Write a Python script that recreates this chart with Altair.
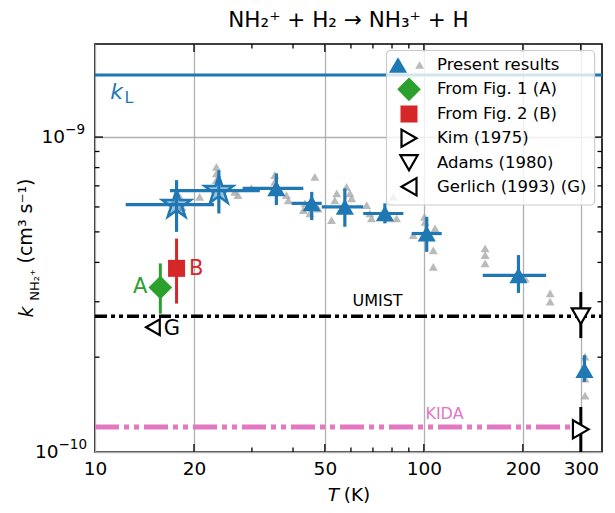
import altair as alt
import pandas as pd

FONT = "DejaVu Sans"
BLUE = "#1f77b4"
GREEN = "#2ca02c"
RED = "#d62728"
PINK = "#e377c2"
GRAYPT = "#a9a9a9"
W, H = 507, 408

# ---------------- data (k in units of 1e-10 cm^3 s^-1) ----------------
present_T   = [17.7, 23.8, 35.6, 45.6, 57.5, 76.1, 102.0, 193.9, 307.8]
present_Tlo = [12.4, 16.9, 28.1, 39.6, 48.9, 65.4, 91.8, 151.0, None]
present_Thi = [23.0, 31.7, 43.0, 48.9, 65.4, 86.6, 113.3, 235.3, None]
present_k   = [6.10, 6.76, 6.87, 6.16, 6.00, 5.72, 4.94, 3.64, 1.82]
present_klo = [5.00, 5.72, 6.08, 5.45, 5.19, 5.32, 4.32, 3.20, 1.67]
present_khi = [7.30, 7.85, 7.67, 6.70, 6.87, 6.16, 5.58, 4.22, 2.03]
present_mk  = ["star", "star", "tri", "tri", "tri", "tri", "tri", "tri", "tri"]

gray_T = [17.5, 18.1, 18.4, 20.8, 23.4, 23.4, 23.4, 26.6, 27.2, 29.9, 35.2, 35.2,
          38.2, 38.7, 46.6, 43.5, 43.0, 45.0, 47.7, 52.4, 54.3, 53.6, 58.2, 59.6,
          60.3, 67.0, 68.5, 69.3, 80.7, 78.8, 82.6, 100.8, 100.4, 92.8, 108.1,
          106.8, 106.8, 153.5, 153.5, 153.5, 203.2, 242.1, 242.1, 309.0, 309.0, 309.0]
gray_k = [6.30, 6.46, 5.99, 6.46, 8.04, 7.67, 7.30, 6.70, 6.54, 6.88, 7.57, 7.21,
          6.54, 6.30, 7.48, 6.16, 5.86, 5.72, 5.93, 5.45, 6.62, 6.30, 6.95, 6.62,
          6.39, 6.08, 5.72, 5.52, 6.46, 5.52, 5.52, 5.38, 5.58, 4.88, 5.13,
          4.37, 3.87, 4.43, 4.22, 3.97, 3.56, 3.19, 3.00, 2.01, 1.71, 1.51]

figA_T, figA_k, figA_klo, figA_khi = [15.8], [3.33], [2.75], [3.97]
figB_T, figB_k, figB_klo, figB_khi = [17.7], [3.83], [2.96], [4.76]
gerlich_T, gerlich_k = [15.0], [2.49]
kim_T, kim_k, kim_klo, kim_khi = [300.0], [1.18], [1.0], [1.39]
adams_T, adams_k, adams_klo, adams_khi = [300.0], [2.70], [2.30], [3.22]

kL_k = [15.75]
umist_k = [2.70]
kida_k = [1.20]
full_T = [10.0, 348.0]
kida_T = [10.0, 300.0]

x_ticks = [10, 20, 50, 100, 200, 300]
x_major = [20, 50, 100, 200, 300]
x_minor = [30, 40, 60, 70, 80, 90]
y_ticks = [1, 10]
y_major = [10]
y_minor = [2, 3, 4, 5, 6, 7, 8, 9]
y_exponents = ["−10", "−9"]
legend_labels = ["Present results", "From Fig. 1 (A)", "From Fig. 2 (B)",
                 "Kim (1975)", "Adams (1980)", "Gerlich (1993) (G)"]

STAR = ("M0,-1L0.2245,-0.309L0.951,-0.309L0.3633,0.118L0.588,0.809L0,0.382"
        "L-0.588,0.809L-0.3633,0.118L-0.951,-0.309L-0.2245,-0.309Z")

# ---------------- scales / axes ----------------
xs = alt.Scale(type="log", domain=[10, 348], nice=False)
ys = alt.Scale(type="log", domain=[1, 19.75], nice=False)
xaxis = alt.Axis(values=x_ticks, format="d", grid=True, gridColor="#b0b0b0", gridWidth=1.3,
                 ticks=False, domain=False, labelFont=FONT, labelFontSize=18.5,
                 labelColor="black", labelPadding=7, labelFlush=False, title="")
yaxis = alt.Axis(values=y_ticks, labels=False, grid=True, gridColor="#b0b0b0", gridWidth=1.3,
                 ticks=False, domain=False, title="")


def X(f):
    return alt.X(f"{f}:Q", scale=xs, axis=xaxis)


def Y(f):
    return alt.Y(f"{f}:Q", scale=ys, axis=yaxis)


one = pd.DataFrame({"d": [0]})


def label(text, px, py, size, color="black", style="normal", angle=0, align="center"):
    return alt.Chart(one).mark_text(text=text, font=FONT, fontSize=size, color=color,
                                    fontStyle=style, angle=angle, align=align,
                                    baseline="middle").encode(x=alt.value(px), y=alt.value(py))


def hline(T, k, color, width, dash=None):
    df = pd.DataFrame({"T0": [T[0]], "T1": [T[1]], "k": k})
    kw = dict(color=color, strokeWidth=width, strokeCap="butt")
    if dash:
        kw["strokeDash"] = dash
    return alt.Chart(df).mark_rule(**kw).encode(x=X("T0"), x2=alt.X2("T1"), y=Y("k"))


present = pd.DataFrame(dict(T=present_T, Tlo=present_Tlo, Thi=present_Thi, k=present_k,
                            klo=present_klo, khi=present_khi, mk=present_mk))
gray = pd.DataFrame(dict(T=gray_T, k=gray_k))

layers = []
# reference lines
layers.append(hline(kida_T, kida_k, PINK, 5, [24, 5, 5, 5, 5, 5]))
layers.append(hline(full_T, umist_k, "black", 3.5, [12, 4, 4, 4, 4, 4]))
layers.append(hline(full_T, kL_k, BLUE, 3))

# gray individual points
layers.append(alt.Chart(gray).mark_point(shape="triangle-up", filled=True, size=80,
                                         color=GRAYPT, opacity=0.8)
              .encode(x=X("T"), y=Y("k")))

# present results error bars and markers
layers.append(alt.Chart(present.dropna()).mark_rule(color=BLUE, strokeWidth=3.2)
              .encode(x=X("Tlo"), x2=alt.X2("Thi"), y=Y("k")))
layers.append(alt.Chart(present).mark_rule(color=BLUE, strokeWidth=3.2)
              .encode(x=X("T"), y=Y("klo"), y2=alt.Y2("khi")))
layers.append(alt.Chart(present[present.mk == "tri"]).mark_point(
    shape="triangle-up", filled=True, size=330, color=BLUE, opacity=1)
    .encode(x=X("T"), y=Y("k")))
layers.append(alt.Chart(present[present.mk == "star"]).mark_point(
    shape=STAR, filled=True, size=900, fill=BLUE, fillOpacity=0.45, stroke=BLUE,
    strokeWidth=2.5, opacity=1).encode(x=X("T"), y=Y("k")))


def point_with_bar(T, k, klo, khi, shape, size, color, fill, sw=2.2):
    df = pd.DataFrame(dict(T=T, k=k, klo=klo, khi=khi))
    bar = alt.Chart(df).mark_rule(color=color, strokeWidth=3).encode(
        x=X("T"), y=Y("klo"), y2=alt.Y2("khi"))
    pt = alt.Chart(df).mark_point(shape=shape, filled=True, size=size, fill=fill,
                                  stroke=color, strokeWidth=sw, opacity=1).encode(
        x=X("T"), y=Y("k"))
    return [bar, pt]


layers += point_with_bar(figA_T, figA_k, figA_klo, figA_khi, "diamond", 560, GREEN, GREEN, 0)
layers += point_with_bar(figB_T, figB_k, figB_klo, figB_khi, "square", 290, RED, RED, 0)
layers += point_with_bar(kim_T, kim_k, kim_klo, kim_khi, "triangle-right", 330, "black", "white")
layers += point_with_bar(adams_T, adams_k, adams_klo, adams_khi, "triangle-down", 330, "black", "white")
layers.append(alt.Chart(pd.DataFrame(dict(T=gerlich_T, k=gerlich_k))).mark_point(
    shape="triangle-left", filled=True, size=250, fill="white", stroke="black",
    strokeWidth=2.2, opacity=1).encode(x=X("T"), y=Y("k")))


# inward ticks on all four sides
def xticks(vals, length):
    df = pd.DataFrame({"t": vals})
    return [alt.Chart(df).mark_rule(color="black", strokeWidth=1.3).encode(
                x=X("t"), y=alt.value(H), y2=alt.value(H - length)),
            alt.Chart(df).mark_rule(color="black", strokeWidth=1.3).encode(
                x=X("t"), y=alt.value(0), y2=alt.value(length))]


def yticks(vals, length):
    df = pd.DataFrame({"t": vals})
    return [alt.Chart(df).mark_rule(color="black", strokeWidth=1.3).encode(
                y=Y("t"), x=alt.value(0), x2=alt.value(length)),
            alt.Chart(df).mark_rule(color="black", strokeWidth=1.3).encode(
                y=Y("t"), x=alt.value(W), x2=alt.value(W - length))]


layers += xticks(x_major, 8) + xticks(x_minor, 4.5) + yticks(y_major, 8) + yticks(y_minor, 4.5)

# y tick labels: "10" with a raised exponent
ylab = pd.DataFrame({"t": y_ticks, "e": y_exponents})
for i, sup_right in enumerate([-8, -10]):
    sub = ylab.iloc[[i]]
    sup_w = 13.5 * (0.838 + 0.636 * (len(y_exponents[i]) - 1))
    layers.append(alt.Chart(sub).mark_text(font=FONT, fontSize=18.5, align="right",
                                           baseline="middle", text="10")
                  .encode(x=alt.value(sup_right - sup_w), y=Y("t")))
    layers.append(alt.Chart(sub).mark_text(font=FONT, fontSize=13.5, align="right",
                                           baseline="middle", dy=-7)
                  .encode(x=alt.value(sup_right), y=Y("t"), text="e:N"))

# annotations
layers.append(label("UMIST", 282.5, 257, 16))
layers.append(label("KIDA", 349.5, 370, 16, PINK))
layers.append(label("k", 21.5, 48, 22, BLUE, "italic"))
layers.append(label("L", 34, 54, 16, BLUE))
layers.append(label("A", 45.3, 243, 21, GREEN))
layers.append(label("B", 101.3, 225, 21, RED))
layers.append(label("G", 77, 284.5, 21))

# legend
layers.append(alt.Chart(one).mark_rect(fill="white", fillOpacity=0.8, stroke="#cccccc",
                                       strokeWidth=1.2, cornerRadius=4)
              .encode(x=alt.value(291.5), x2=alt.value(499.6), y=alt.value(6.5), y2=alt.value(161)))
row_y = [21, 45.3, 70, 94.3, 118.7, 142.7]


def lgd_marker(px, py, shape, size, fill, stroke, sw, opacity=1.0):
    return alt.Chart(one).mark_point(shape=shape, filled=True, size=size, fill=fill,
                                     stroke=stroke, strokeWidth=sw, opacity=opacity).encode(
        x=alt.value(px), y=alt.value(py))


layers.append(lgd_marker(303, row_y[0], "triangle-up", 330, BLUE, BLUE, 0))
layers.append(lgd_marker(324.6, row_y[0], "triangle-up", 80, GRAYPT, GRAYPT, 0, 0.8))
layers.append(lgd_marker(314, row_y[1], "diamond", 560, GREEN, GREEN, 0))
layers.append(lgd_marker(314, row_y[2], "square", 290, RED, RED, 0))
layers.append(lgd_marker(314, row_y[3], "triangle-right", 300, "white", "black", 2.2))
layers.append(lgd_marker(314, row_y[4], "triangle-down", 300, "white", "black", 2.2))
layers.append(lgd_marker(314, row_y[5], "triangle-left", 300, "white", "black", 2.2))
for lab, yy in zip(legend_labels, row_y):
    layers.append(label(lab, 342, yy, 16.5, align="left"))

# titles
layers.append(label("NH₂⁺ + H₂ → NH₃⁺ + H", 253.5, -23, 21.5))
layers.append(label("T", 238.5, 451, 18.5, style="italic"))
layers.append(label("(K)", 262, 451, 18.5))
layers.append(label("k", -68, 268, 19, style="italic", angle=270))
layers.append(label("NH₂⁺", -60, 241, 13, angle=270))
layers.append(label("(cm³ s⁻¹)", -69, 177, 19, angle=270))

chart = alt.layer(*layers).properties(
    width=W, height=H, autosize="none",
    padding={"left": 87, "top": 36, "right": 5, "bottom": 54},
    background="white",
).configure_view(stroke="black", strokeWidth=1.6).configure_text(font=FONT)

chart.save("out.html", embed_options={"renderer": "svg", "actions": False})
